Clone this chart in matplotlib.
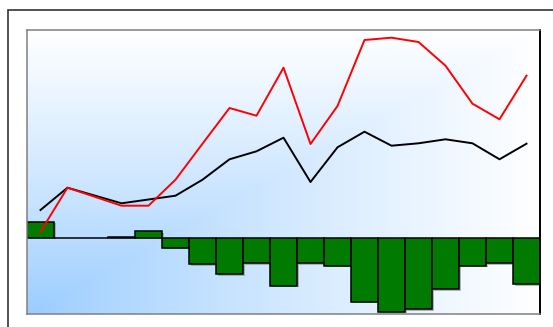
import numpy as np
import matplotlib
matplotlib.use("Agg")
import matplotlib.pyplot as plt
from matplotlib.patches import Rectangle
import matplotlib.patheffects as pe

# Data (arbitrary units; 0 = bar baseline)
categories = list(range(1, 20))
bar_values = [16, 0, 0, 1, 6.4, -10, -26.3, -36.3, -25.7, -48, -25.7, -28,
              -64, -74, -71.7, -51.7, -28, -25.7, -46.3]
black_line = [27.7, 50, 42.2, 34.4, 38.2, 42, 58, 78.4, 86.4, 100, 55.7, 90.4,
              106, 92, 94.4, 98.4, 94.4, 78.4, 94]
red_line = [6, 50, 41, 32, 32, 58, 94, 129.7, 122, 170, 93.7, 131.7,
            197.7, 200, 195.7, 172, 134, 118.4, 162]

W, H = 553, 327
fig = plt.figure(figsize=(W / 100, H / 100), dpi=100)
fig.patch.set_facecolor("white")

# outer frame (extends past the right/bottom edge)
fig.patches.append(Rectangle((8 / W, -0.2), 1.3, 1.2 - 10 / H, transform=fig.transFigure,
                             fill=False, edgecolor="#333333", linewidth=1.2, zorder=0))

ax = fig.add_axes([27 / W, (H - 314) / H, 513 / W, 284 / H])

# background gradient: blue at bottom-left, white toward top and right
nx, ny = 400, 300
u = np.linspace(0, 1, nx)[None, :]
v = np.linspace(0, 1, ny)[:, None]  # 0 at bottom
t = np.clip(np.maximum(u, v), 0, 1) ** 0.85
blue = np.array([0.60, 0.80, 1.0])
white = np.array([1.0, 1.0, 1.0])
img = blue[None, None, :] * (1 - t[..., None]) + white[None, None, :] * t[..., None]
ax.imshow(img, extent=[0, 1, 0, 1], transform=ax.transAxes, origin="lower",
          aspect="auto", zorder=0, interpolation="bilinear")

x = np.arange(len(categories))
bars = ax.bar(x, bar_values, width=1.0, color="#007a00", edgecolor="black",
              linewidth=1.1, zorder=2)
for b in bars:
    b.set_path_effects([pe.SimplePatchShadow(offset=(1.2, -1.2), shadow_rgbFace="#888888",
                                             alpha=0.6), pe.Normal()])
ax.plot(x, black_line, color="black", linewidth=1.4, zorder=3)
ax.plot(x, red_line, color="red", linewidth=1.4, zorder=4)

ax.set_xlim(-0.5, len(categories) - 0.5)
ax.set_ylim(-76.3, 207.7)
ax.set_xticks([])
ax.set_yticks([])
for s in ["top", "left", "bottom"]:
    ax.spines[s].set_color("#808080")
    ax.spines[s].set_linewidth(1.1)
ax.spines["right"].set_color("black")
ax.spines["right"].set_linewidth(1.4)

fig.savefig("out.png", dpi=100)
